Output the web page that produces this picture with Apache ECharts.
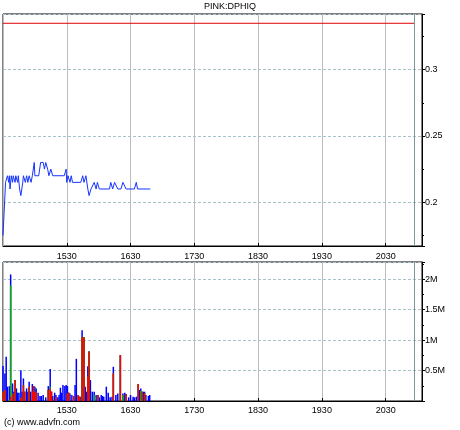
<!DOCTYPE html>
<html>
<head>
<meta charset="utf-8">
<title>PINK:DPHIQ</title>
<script src="https://cdn.jsdelivr.net/npm/echarts@6/dist/echarts.min.js"></script>
<style>
    html, body { margin: 0; padding: 0; background: #fff; }
    #dphiq_chart { width: 460px; height: 430px; }
</style>
</head>
<body>
<div id="dphiq_chart"></div>
<script>

// Chart data
// ------------------------------

// Price line (x = day number on the axis, y = price)
var priceDays = [
    1430, 1431, 1434, 1437, 1439, 1440, 1441, 1443, 1445, 1446,
    1449, 1450, 1453, 1454, 1456, 1458, 1461, 1462, 1465, 1467,
    1469, 1471, 1474, 1476, 1479, 1480, 1486, 1489, 1493, 1495,
    1497, 1500, 1502, 1505, 1508, 1526, 1529, 1530, 1532, 1535,
    1537, 1539, 1552, 1555, 1557, 1560, 1563, 1565, 1568, 1571,
    1573, 1576, 1578, 1581, 1597, 1599, 1602, 1605, 1607, 1610,
    1615, 1618, 1620, 1623, 1636, 1639, 1641, 1661
];
var prices = [
    0.175, 0.175, 0.215, 0.22, 0.215, 0.22, 0.21, 0.22, 0.215, 0.22,
    0.215, 0.22, 0.215, 0.22, 0.21, 0.205, 0.215, 0.22, 0.215, 0.22,
    0.215, 0.22, 0.215, 0.22, 0.23, 0.22, 0.22, 0.23, 0.23, 0.225,
    0.23, 0.225, 0.22, 0.225, 0.22, 0.22, 0.225, 0.215, 0.22, 0.215,
    0.22, 0.215, 0.215, 0.22, 0.215, 0.22, 0.21, 0.205, 0.21, 0.21,
    0.215, 0.21, 0.215, 0.21, 0.21, 0.215, 0.21, 0.215, 0.215, 0.21,
    0.21, 0.215, 0.215, 0.21, 0.21, 0.215, 0.21, 0.21
];

// Volume bars, thousands of shares: red (bottom), green, blue (top)
var volDays = [
    1430, 1433, 1435, 1437, 1440, 1442, 1445, 1447, 1449, 1451,
    1453, 1455, 1458, 1460, 1462, 1464, 1467, 1469, 1471, 1473,
    1476, 1478, 1480, 1482, 1485, 1488, 1490, 1493, 1497, 1501,
    1504, 1506, 1508, 1511, 1513, 1516, 1518, 1520, 1522, 1524,
    1527, 1529, 1531, 1533, 1535, 1538, 1541, 1543, 1545, 1548,
    1550, 1552, 1554, 1557, 1559, 1561, 1563, 1565, 1567, 1570,
    1573, 1576, 1579, 1581, 1584, 1586, 1588, 1592, 1595, 1598,
    1601, 1603, 1607, 1610, 1614, 1618, 1621, 1623, 1627, 1630,
    1634, 1636, 1639, 1642, 1644, 1646, 1648, 1650, 1652, 1654,
    1658, 1660
];
var volRed = [
    153, 180, 0, 0, 0, 71, 125, 0, 343, 0,
    0, 0, 54, 0, 261, 153, 0, 0, 234, 0,
    153, 245, 153, 136, 0, 0, 0, 0, 0, 180,
    207, 153, 0, 0, 60, 0, 0, 0, 0, 0,
    0, 0, 125, 136, 0, 0, 82, 0, 0, 98,
    71, 0, 1051, 1040, 0, 0, 398, 806, 0, 0,
    0, 0, 98, 0, 0, 0, 0, 0, 0, 0,
    0, 452, 0, 0, 752, 0, 0, 114, 0, 0,
    0, 0, 0, 278, 0, 0, 153, 0, 125, 0,
    0, 0
];
var volGreen = [
    0, 0, 0, 0, 20, 1825, 0, 0, 0, 0,
    0, 0, 0, 0, 0, 0, 0, 0, 0, 0,
    0, 0, 0, 0, 0, 0, 0, 0, 0, 0,
    27, 0, 0, 0, 0, 0, 0, 0, 0, 0,
    0, 0, 0, 0, 0, 0, 0, 0, 0, 0,
    0, 0, 0, 11, 0, 0, 0, 11, 0, 0,
    98, 0, 0, 0, 0, 0, 0, 0, 0, 0,
    0, 0, 0, 0, 0, 98, 0, 0, 0, 0,
    0, 0, 0, 0, 0, 169, 0, 0, 0, 0,
    0, 0
];
var volBlue = [
    420, 272, 724, 234, 223, 180, 163, 153, 0, 207,
    136, 136, 452, 153, 109, 0, 207, 153, 82, 153,
    125, 0, 82, 71, 136, 82, 82, 98, 60, 65,
    289, 0, 82, 136, 38, 60, 98, 218, 136, 261,
    245, 261, 120, 0, 125, 98, 0, 261, 692, 0,
    0, 71, 109, 0, 234, 153, 174, 0, 343, 153,
    54, 98, 0, 60, 98, 82, 71, 234, 136, 60,
    71, 109, 98, 125, 0, 27, 136, 0, 60, 98,
    71, 60, 71, 0, 180, 38, 0, 153, 27, 98,
    82, 98
];

// Reference level (red line) and marker day (dark vertical line)
var refLevel = 0.335;
var refDays = [1430, 2076];
var markDay = 2075;


// Setup module
// ------------------------------

var DphiqChart = function() {

    var _dphiqChart = function() {
        if (typeof echarts == 'undefined') {
            console.warn('Warning - echarts.min.js is not loaded.');
            return;
        }

        var chart_element = document.getElementById('dphiq_chart');
        if (!chart_element) {
            return;
        }

        var chart = echarts.init(chart_element, null, { renderer: 'canvas' });

        // Common styles
        var fontFamily = '"Liberation Sans", Arial, sans-serif';
        var vGrid = { show: true, lineStyle: { color: '#bcbcbc', width: 1 } };
        var hGrid = { show: true, lineStyle: { color: '#a6c4c8', width: 1, type: [3, 2] } };
        var blackLine = { show: true, lineStyle: { color: '#000', width: 1 } };
        var markDayLine = {
            silent: true,
            symbol: 'none',
            label: { show: false },
            lineStyle: { color: '#7d9a9a', width: 1, type: 'solid' },
            data: [{ xAxis: markDay }]
        };

        var xAxisBase = function(idx, margin) {
            return {
                type: 'value',
                gridIndex: idx,
                min: 1430,
                max: 2087,
                interval: 100,
                axisLine: blackLine,
                axisTick: { show: true, inside: true, length: 3, lineStyle: { color: '#000' } },
                axisLabel: {
                    color: '#000',
                    fontSize: 9,
                    fontFamily: fontFamily,
                    margin: margin,
                    showMinLabel: false,
                    showMaxLabel: false,
                    formatter: function(v) { return String(v); }
                },
                splitLine: vGrid
            };
        };

        // Stacked volumes drawn as overlapping cumulative bars (tallest first)
        var stackTo = function(level) {
            return volDays.map(function(d, i) {
                var v = volRed[i];
                if (level > 0) v += volGreen[i];
                if (level > 1) v += volBlue[i];
                return [d, v * 1000];
            });
        };

        var volBar = function(name, color, level) {
            return {
                name: name,
                type: 'bar',
                xAxisIndex: 1,
                yAxisIndex: 1,
                barWidth: 1.5,
                barGap: '-100%',
                itemStyle: { color: color },
                data: stackTo(level)
            };
        };

        var blueBar = volBar('Buy', '#0000ff', 2);
        blueBar.markLine = markDayLine;

        chart.setOption({
            animation: false,
            textStyle: { fontFamily: fontFamily },

            title: [
                {
                    text: 'PINK:DPHIQ',
                    left: 'center',
                    top: 2,
                    padding: 0,
                    textStyle: { fontSize: 9, fontWeight: 'normal', color: '#000', fontFamily: fontFamily }
                },
                {
                    text: '(c) www.advfn.com',
                    left: 4,
                    top: 418,
                    padding: 0,
                    textStyle: { fontSize: 9, fontWeight: 'normal', color: '#000', fontFamily: fontFamily }
                }
            ],

            grid: [
                { left: 3, right: 38, top: 14, height: 232, show: true, borderColor: '#000', borderWidth: 1 },
                { left: 3, right: 38, top: 262, height: 139, show: true, borderColor: '#000', borderWidth: 1 }
            ],

            xAxis: [xAxisBase(0, 6), xAxisBase(1, 5)],

            yAxis: [
                {
                    type: 'value',
                    gridIndex: 0,
                    position: 'right',
                    min: 0.167,
                    max: 0.342,
                    splitNumber: 4,
                    axisLine: blackLine,
                    axisTick: { show: true, length: 3, lineStyle: { color: '#000' } },
                    minorTick: { show: true, splitNumber: 2, length: 2, lineStyle: { color: '#000' } },
                    axisLabel: {
                        color: '#000',
                        fontSize: 9,
                        fontFamily: fontFamily,
                        margin: 3,
                        showMinLabel: false,
                        showMaxLabel: false
                    },
                    splitLine: hGrid
                },
                {
                    type: 'value',
                    gridIndex: 1,
                    position: 'right',
                    min: 0,
                    max: 2280000,
                    interval: 500000,
                    axisLine: blackLine,
                    axisTick: { show: true, length: 3, lineStyle: { color: '#000' } },
                    minorTick: { show: true, splitNumber: 2, length: 2, lineStyle: { color: '#000' } },
                    axisLabel: {
                        color: '#000',
                        fontSize: 9,
                        fontFamily: fontFamily,
                        margin: 3,
                        showMinLabel: false,
                        showMaxLabel: false,
                        formatter: function(v) { return (v / 1000000) + 'M'; }
                    },
                    splitLine: hGrid
                }
            ],

            series: [
                {
                    name: 'Price',
                    type: 'line',
                    xAxisIndex: 0,
                    yAxisIndex: 0,
                    symbol: 'none',
                    lineStyle: { color: '#1533ff', width: 1 },
                    data: priceDays.map(function(d, i) { return [d, prices[i]]; }),
                    markLine: markDayLine
                },
                {
                    name: 'Level',
                    type: 'line',
                    xAxisIndex: 0,
                    yAxisIndex: 0,
                    symbol: 'none',
                    lineStyle: { color: '#e00000', width: 1 },
                    data: refDays.map(function(d) { return [d, refLevel]; })
                },
                blueBar,
                volBar('Unknown', '#00b000', 1),
                volBar('Sell', '#ff0000', 0)
            ]
        });
    };

    return {
        init: function() {
            _dphiqChart();
        }
    };
}();


// Initialize module
// ------------------------------

document.addEventListener('DOMContentLoaded', function() {
    DphiqChart.init();
});
</script>
</body>
</html>
